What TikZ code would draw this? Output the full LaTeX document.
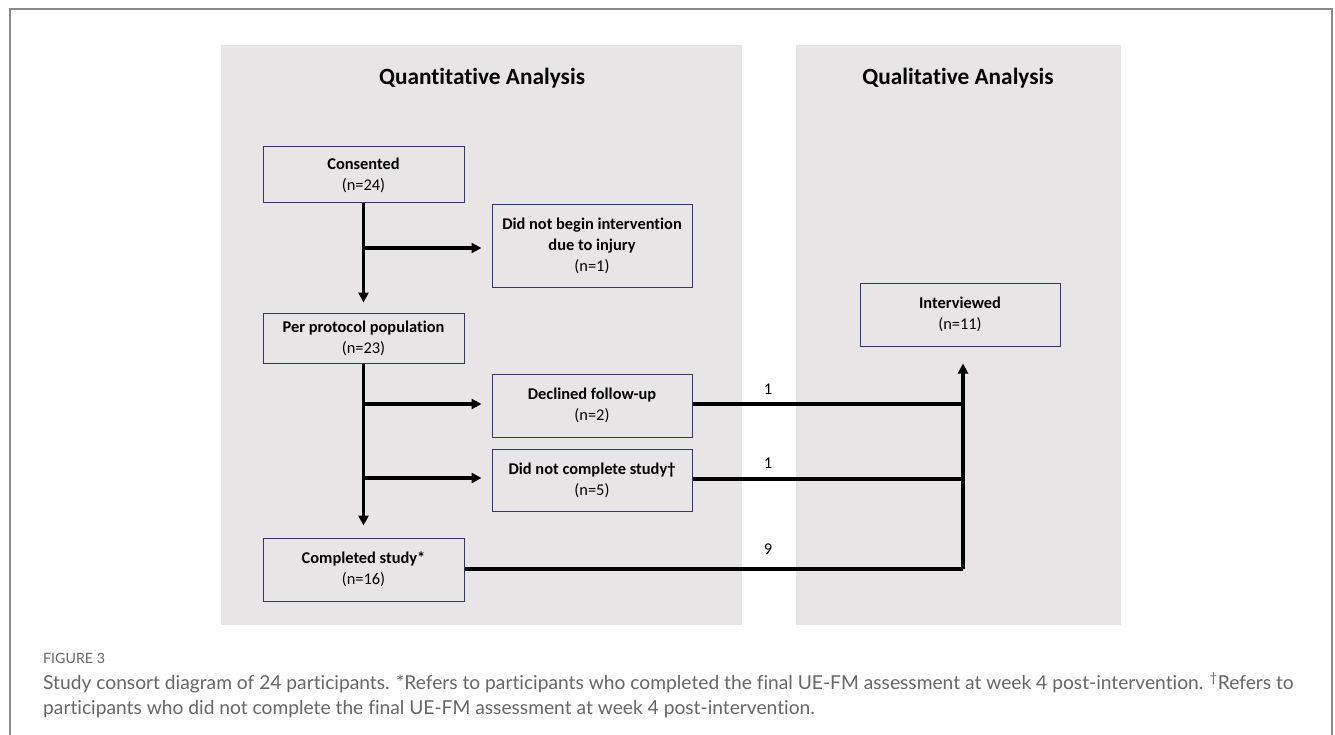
\documentclass[tikz,border=0pt]{standalone}
\usepackage{fontspec}
\usetikzlibrary{arrows.meta}
\newfontfamily\carlito[Ligatures=NoCommon]{Carlito}
\newfontfamily\capfont[Ligatures=NoCommon]{Lato}
\definecolor{panelgray}{HTML}{E7E5E6}
\definecolor{boxblue}{HTML}{2F3A5E}
\definecolor{framegray}{HTML}{8A8A8A}
\definecolor{capgray}{HTML}{666666}
\tikzset{
  panel/.style={fill=panelgray, draw=none},
  flowbox/.style={draw=boxblue, fill=panelgray, line width=1pt, minimum width=201pt, align=center, inner sep=2pt, font=\carlito\fontsize{16.4}{21}\selectfont},
  paneltitle/.style={font=\carlito\bfseries\fontsize{23.3}{27}\selectfont},
  flow/.style={line width=3.3pt, -{Triangle[length=10pt,width=10pt]}},
  plain/.style={line width=3.3pt},
  countlabel/.style={font=\carlito\fontsize{16.4}{19}\selectfont},
  captxt/.style={anchor=west, inner sep=0pt, text=capgray, font=\capfont\fontsize{19.2}{22}\selectfont}
}
\begin{document}
\begin{tikzpicture}[x=1pt,y=-1pt]
\useasboundingbox (0,0) rectangle (1335,735);
\fill[white] (0,0) rectangle (1335,735);
% outer frame
\draw[framegray, line width=1.5pt] (10,735) -- (10,9) -- (1332,9) -- (1332,735);
% panels
\fill[panel] (221,45) rectangle (742,625);
\fill[panel] (796,45) rectangle (1121,625);
\node[paneltitle] (qt) at (482,78) {Quantitative Analysis};
\node[paneltitle] (ql) at (958,78) {Qualitative Analysis};
% boxes
\node[flowbox, minimum height=56pt] (cons) at (363.5,175) {\textbf{Consented}\\(n=24)};
\node[flowbox, minimum width=200pt, minimum height=82pt] (dnb) at (592,246) {\textbf{Did not begin intervention}\\\textbf{due to injury}\\(n=1)};
\node[flowbox, minimum height=50pt] (pp) at (363.5,338) {\textbf{Per protocol population}\\(n=23)};
\node[flowbox, minimum width=200pt, minimum height=63pt] (dec) at (592,405.5) {\textbf{Declined follow-up}\\(n=2)};
\node[flowbox, minimum width=200pt, minimum height=62pt] (dnc) at (592,480) {\textbf{Did not complete study\textdagger}\\(n=5)};
\node[flowbox, minimum height=63pt] (comp) at (363.5,569.5) {\textbf{Completed study*}\\(n=16)};
\node[flowbox, minimum width=200pt, minimum height=63pt] (int) at (960,314.5) {\textbf{Interviewed}\\(n=11)};
% junction coordinates
\coordinate (b1) at (363.5,248);
\coordinate (b2) at (363.5,404);
\coordinate (b3) at (363.5,478);
\coordinate (j1) at (963,404);
\coordinate (j2) at (963,479);
\coordinate (j3) at (963,569);
% quantitative connectors
\draw[flow, shorten >=10pt] (cons.south) -- (pp.north);
\draw[flow, shorten >=10pt] (b1) -- (b1 -| dnb.west);
\draw[flow, shorten >=12pt] (pp.south) -- (comp.north);
\draw[flow, shorten >=10pt] (b2) -- (b2 -| dec.west);
\draw[flow, shorten >=10pt] (b3) -- (b3 -| dnc.west);
% qualitative connectors
\draw[plain] (j1 -| dec.east) -- (j1);
\draw[plain] (j2 -| dnc.east) -- (j2);
\draw[plain] (j3 -| comp.east) -- (j3);
\draw[flow, shorten >=17pt] (j3) -- (j3 |- int.south);
\node[countlabel] (l1) at (768,389) {1};
\node[countlabel] (l2) at (768,463) {1};
\node[countlabel] (l3) at (768,549) {9};
% caption
\node[captxt, font=\capfont\fontsize{14.2}{17}\selectfont] (fig) at (43,658) {FIGURE 3};
\node[captxt] (cap1) at (43,683) {Study consort diagram of 24 participants. *Refers to participants who completed the final UE-FM assessment at week 4 post-intervention. \textsuperscript{\textdagger}Refers to};
\node[captxt] (cap2) at (43,709) {participants who did not complete the final UE-FM assessment at week 4 post-intervention.};
\end{tikzpicture}
\end{document}
